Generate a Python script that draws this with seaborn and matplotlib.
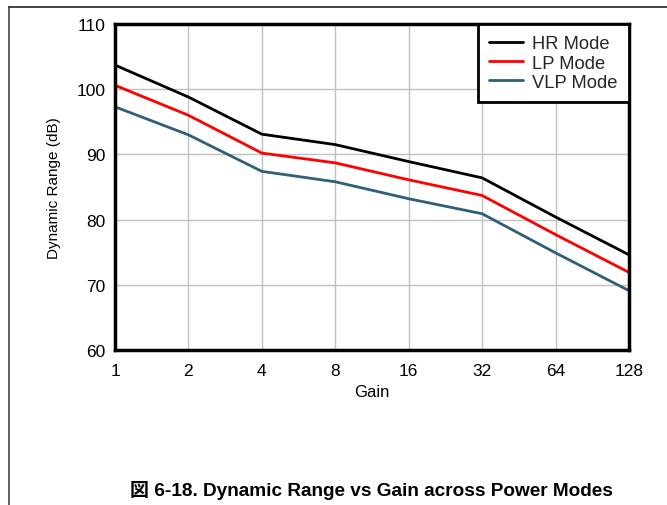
import pandas as pd
import matplotlib
matplotlib.use('Agg')
import matplotlib.pyplot as plt
import seaborn as sns
from matplotlib.lines import Line2D

# values
gain = [1, 2, 4, 8, 16, 32, 64, 128]
hr_mode = [103.7, 98.8, 93.1, 91.5, 88.9, 86.4, 80.4, 74.6]
lp_mode = [100.6, 96.0, 90.2, 88.7, 86.1, 83.7, 77.7, 71.9]
vlp_mode = [97.3, 93.0, 87.4, 85.8, 83.2, 80.9, 74.9, 69.1]
modes = ['HR Mode', 'LP Mode', 'VLP Mode']
colors = ['#000000', '#ff0000', '#2f5f7a']
y_ticks = [60, 70, 80, 90, 100, 110]

sns.set_theme(style='white')
plt.rcParams['font.family'] = ['Liberation Sans', 'Noto Sans CJK JP', 'DejaVu Sans']

df = pd.DataFrame({'Gain': gain, 'HR Mode': hr_mode, 'LP Mode': lp_mode, 'VLP Mode': vlp_mode})
long_df = df.melt(id_vars='Gain', var_name='Mode', value_name='Dynamic Range')

fig = plt.figure(figsize=(6.67, 5.06), dpi=100)
ax = fig.add_axes([115 / 667, 1 - 351 / 506, (629 - 115) / 667, (351 - 25) / 506])

sns.lineplot(data=long_df, x='Gain', y='Dynamic Range', hue='Mode', hue_order=modes,
             palette=colors, linewidth=2, ax=ax, legend=False)

ax.set_xscale('log', base=2)
ax.set_xlim(1, 128)
ax.set_ylim(60, 110)
ax.set_xticks(gain)
ax.set_xticklabels([str(g) for g in gain])
ax.minorticks_off()
ax.set_yticks(y_ticks)
ax.grid(True, color='#c0c0c0', linewidth=1)
ax.tick_params(axis='both', labelsize=12.5, length=0, colors='black')
ax.tick_params(axis='x', pad=9.5)
ax.tick_params(axis='y', pad=7)
for spine in ax.spines.values():
    spine.set_color('black')
    spine.set_linewidth(2.5)

ax.set_xlabel('Gain', fontsize=12, labelpad=4, color='black')
ax.set_ylabel('Dynamic Range (dB)', fontsize=11, labelpad=11, color='black')

handles = [Line2D([0], [0], color=c, linewidth=2) for c in colors]
leg = ax.legend(handles, modes, loc='upper right', borderaxespad=0, fontsize=13.2,
                frameon=True, fancybox=False, framealpha=1, edgecolor='black',
                handlelength=1.85, handletextpad=0.5, labelspacing=0.12,
                borderpad=0.62)
leg.get_frame().set_linewidth(2)

# page frame lines
fig.add_artist(Line2D([9 / 667, 9 / 667], [0, 1 - 8 / 506], color='#444444', linewidth=1.2))
fig.add_artist(Line2D([9 / 667, 1], [1 - 8 / 506, 1 - 8 / 506], color='#222222', linewidth=1.2))

fig.text(371 / 667, 1 - 491 / 506, '図 6-18. Dynamic Range vs Gain across Power Modes',
         ha='center', va='center', fontsize=13.7, fontweight='bold', color='black')

fig.savefig('out.png', dpi=100)
